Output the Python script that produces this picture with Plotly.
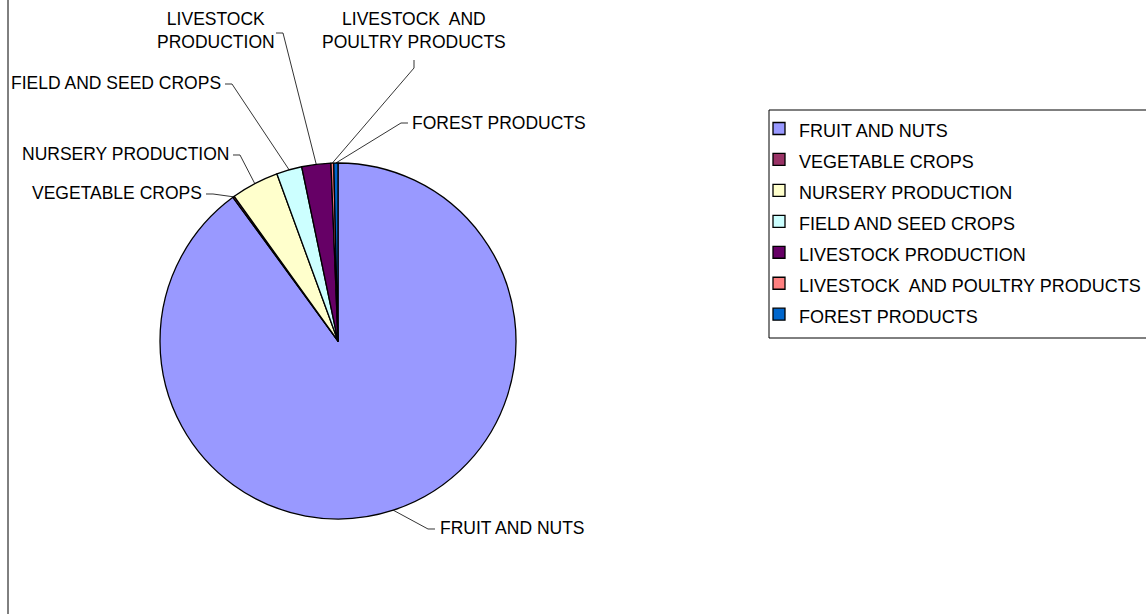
import math
import plotly.graph_objects as go

# ---- data ----
categories = ["FRUIT AND NUTS", "VEGETABLE CROPS", "NURSERY PRODUCTION",
              "FIELD AND SEED CROPS", "LIVESTOCK PRODUCTION",
              "LIVESTOCK  AND POULTRY PRODUCTS", "FOREST PRODUCTS"]
shares = [89.95, 0.15, 4.32, 2.31, 2.64, 0.25, 0.38]
colors = ["#9999FF", "#993366", "#FFFFCC", "#CCFFFF", "#660066", "#FF8080", "#0066CC"]
pie_labels = ["FRUIT AND NUTS", "VEGETABLE CROPS", "NURSERY PRODUCTION",
              "FIELD AND SEED CROPS", "LIVESTOCK<br>PRODUCTION",
              "LIVESTOCK  AND<br>POULTRY PRODUCTS", "FOREST PRODUCTS"]

W, H = 1146, 614
CX, CY, R = 338, 341, 178
FONT = "Liberation Sans, Arial, sans-serif"
FS = 17.5


def px(x):
    return x / W


def py(y):
    return 1 - y / H


legend_names = [f'<span style="font-size:{FS + 0.5}px">{c}</span>' for c in categories]

fig = go.Figure(go.Pie(
    labels=legend_names, values=shares, sort=False, direction="clockwise",
    rotation=0, textinfo="none", hoverinfo="label+percent",
    marker=dict(colors=colors, line=dict(color="black", width=1.3)),
    domain=dict(x=[px(CX - R), px(CX + R)], y=[py(CY + R), py(CY - R)]),
))

# label layout: (text anchor x, y, xanchor, leader elbow points)
label_layout = [
    dict(x=438, y=528, xanchor="left", elbow=[(428, 529), (435, 529)]),
    dict(x=204, y=193, xanchor="right", elbow=[(213, 194), (206, 194)]),
    dict(x=231, y=154, xanchor="right", elbow=[(240, 155), (233, 155)]),
    dict(x=223, y=83, xanchor="right", elbow=[(232, 84), (225, 84)]),
    dict(x=216, y=30, xanchor="center", elbow=[(283, 33), (276, 33)]),
    dict(x=414, y=30, xanchor="center", elbow=[(414, 68), (414, 60)]),
    dict(x=410, y=123, xanchor="left", elbow=[(401, 123), (408, 123)]),
]

total = sum(shares)
cum = 0.0
shapes = []
annotations = []
for lab, val, lay in zip(pie_labels, shares, label_layout):
    mid = (cum + val / 2) / total * 2 * math.pi
    cum += val
    ex = CX + R * math.sin(mid)
    ey = CY - R * math.cos(mid)
    pts = [(ex, ey)] + lay["elbow"]
    path = "M " + " L ".join(f"{px(a):.5f},{py(b):.5f}" for a, b in pts)
    shapes.append(dict(type="path", xref="paper", yref="paper", path=path,
                       line=dict(color="black", width=0.8)))
    annotations.append(dict(x=px(lay["x"]), y=py(lay["y"]), xref="paper", yref="paper",
                            text=lab, showarrow=False, xanchor=lay["xanchor"],
                            yanchor="middle", align="center",
                            font=dict(family=FONT, size=FS, color="black")))

# chart-area left border
shapes.append(dict(type="line", xref="paper", yref="paper", x0=px(8), x1=px(8), y0=0, y1=1,
                   line=dict(color="black", width=1)))
# legend box (extends past the right edge)
shapes.append(dict(type="rect", xref="paper", yref="paper", x0=px(769), x1=px(1160),
                   y0=py(338), y1=py(110), line=dict(color="black", width=1),
                   fillcolor="rgba(0,0,0,0)", layer="below"))

fig.update_layout(
    width=W, height=H, margin=dict(l=0, r=0, t=0, b=0),
    paper_bgcolor="white", plot_bgcolor="white",
    showlegend=True,
    legend=dict(x=px(759), y=py(108), xanchor="left", yanchor="top",
                font=dict(family=FONT, size=21.5, color="black"),
                borderwidth=0, bgcolor="rgba(0,0,0,0)",
                traceorder="normal"),
    shapes=shapes, annotations=annotations,
)

fig.write_html("out.html", config={"displayModeBar": False})

with open("out.html", encoding="utf-8") as f:
    html = f.read()
html = html.replace("<body>", '<body style="margin:0;overflow:hidden">', 1)
with open("out.html", "w", encoding="utf-8") as f:
    f.write(html)
